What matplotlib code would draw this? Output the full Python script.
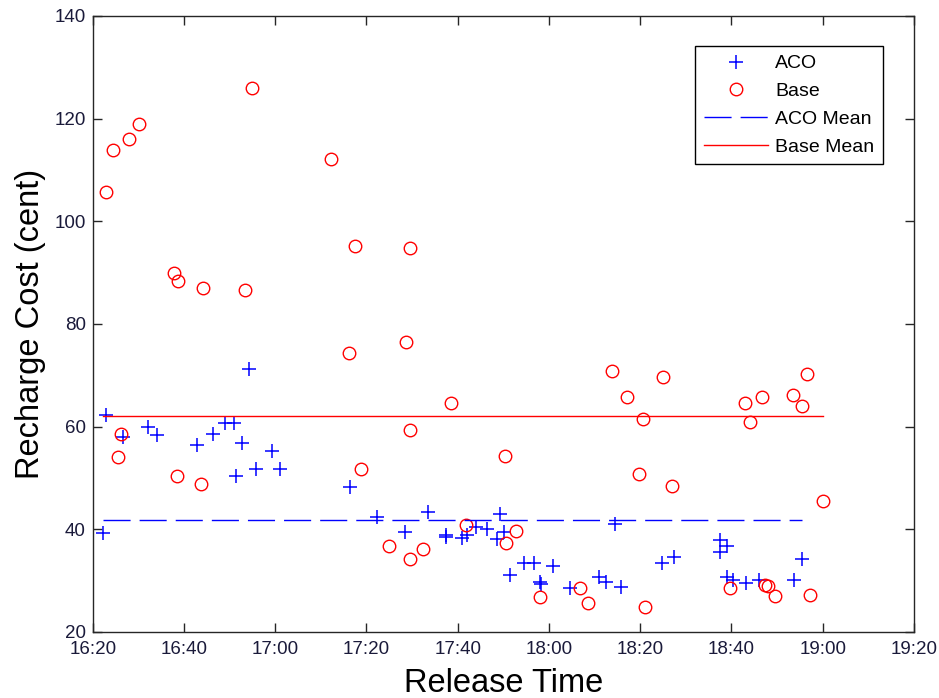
import numpy as np
import matplotlib
matplotlib.use("Agg")
import matplotlib.pyplot as plt

# ---- data (time = minutes after 16:20) ----
aco_t = [2.9, 6.6, 12.2, 14.0, 22.8, 26.4, 29.1, 30.9, 32.8, 31.3,
         35.7, 39.3, 41.0, 34.3, 56.5, 62.2, 2.2, 68.5, 73.4, 77.5,
         80.9, 82.0, 84.1, 86.4, 89.2, 88.6, 90.1, 91.5, 94.5, 96.7,
         100.9, 98.1, 98.2, 104.5, 110.9, 112.5, 115.8, 114.5, 124.7, 127.4,
         137.5, 137.5, 139.0, 155.5, 139.0, 140.3, 143.1, 146.0, 153.6, 77.4]
aco_v = [62.3, 58.0, 60.0, 58.4, 56.4, 58.5, 60.8, 60.8, 56.8, 50.3,
         51.7, 55.3, 51.7, 71.2, 48.2, 42.5, 39.3, 39.5, 43.4, 38.9,
         38.3, 38.8, 40.5, 40.1, 42.9, 38.1, 39.5, 31.1, 33.4, 33.5,
         32.9, 29.8, 29.3, 28.5, 30.8, 29.7, 28.8, 41.0, 33.5, 34.7,
         37.9, 35.5, 36.8, 34.2, 30.7, 30.1, 29.6, 30.1, 30.1, 38.6]

base_t = [2.9, 4.4, 7.9, 10.1, 34.9, 17.8, 18.7, 24.1, 33.3, 52.2,
          57.4, 69.6, 56.1, 68.6, 6.2, 5.6, 18.4, 23.7, 58.7, 65.0,
          69.6, 78.5, 69.6, 90.3, 117.1, 120.7, 119.8, 127.0, 124.9, 72.3,
          81.9, 90.6, 92.7, 98.1, 106.9, 108.5, 121.0, 156.5, 142.9, 146.6,
          153.4, 155.5, 144.1, 160.0, 139.6, 147.4, 148.1, 149.5, 157.1, 113.9]
base_v = [105.7, 113.9, 116.0, 118.9, 126.0, 90.0, 88.4, 87.0, 86.6, 112.2,
          95.2, 94.9, 74.4, 76.4, 58.5, 54.1, 50.3, 48.8, 51.7, 36.8,
          34.2, 64.7, 59.4, 54.3, 65.8, 61.4, 50.8, 48.4, 69.7, 36.2,
          40.8, 37.4, 39.7, 26.8, 28.5, 25.6, 24.9, 70.3, 64.7, 65.8,
          66.2, 64.1, 60.9, 45.5, 28.5, 29.2, 29.0, 27.0, 27.3, 70.8]

xtick_pos = [0, 20, 40, 60, 80, 100, 120, 140, 160, 180]
xtick_labels = ["16:20", "16:40", "17:00", "17:20", "17:40",
                "18:00", "18:20", "18:40", "19:00", "19:20"]
yticks = [20, 40, 60, 80, 100, 120, 140]

plt.rcParams['font.family'] = ['Liberation Sans', 'DejaVu Sans']

fig = plt.figure(figsize=(9.39, 6.98), dpi=100)
ax = fig.add_axes([92.7/939, 1-632/698, (914-92.7)/939, (632-16)/698])

blue = '#0000ff'
red = '#ff0000'

ax.plot(aco_t, aco_v, linestyle='none', marker='+', color=blue,
        markersize=10, markeredgewidth=1.1, label='ACO')
ax.plot(base_t, base_v, linestyle='none', marker='o', markerfacecolor='none',
        markeredgecolor=red, markersize=9, markeredgewidth=1.0, label='Base')

t0 = min(min(aco_t), min(base_t))
aco_mean = np.mean(aco_v)
base_mean = np.mean(base_v)
ax.plot([t0, max(aco_t)], [aco_mean, aco_mean], color=blue, lw=1.0,
        linestyle=(0, (19.5, 6.5)), label='ACO Mean')
ax.plot([t0, max(base_t)], [base_mean, base_mean], color=red, lw=1.0,
        label='Base Mean')

ax.set_xlim(0, 180)
ax.set_ylim(20, 140)
ax.set_xticks(xtick_pos)
ax.set_xticklabels(xtick_labels)
ax.set_yticks(yticks)

tick_color = '#1a1a3a'
ax.tick_params(direction='in', length=6.5, width=1, top=True, right=True,
               labelsize=13.5, labelcolor=tick_color, color='#262626')
ax.tick_params(axis='x', pad=6.5)
ax.tick_params(axis='y', pad=5)
for s in ax.spines.values():
    s.set_color('#262626')
    s.set_linewidth(1.0)

ax.set_xlabel('Release Time', fontsize=23.5, labelpad=7)
ax.set_ylabel('Recharge Cost (cent)', fontsize=23.5, labelpad=6)

leg = ax.legend(loc='upper right', bbox_to_anchor=((883-92.7)/821.3, (632-46)/616),
                borderaxespad=0, numpoints=1, fontsize=14, fancybox=False,
                edgecolor='black', framealpha=1, handlelength=3.3,
                handletextpad=0.35, labelspacing=0.52, borderpad=0.45)
leg.get_frame().set_linewidth(1.0)

fig.savefig('out.png', dpi=100, facecolor='white')
